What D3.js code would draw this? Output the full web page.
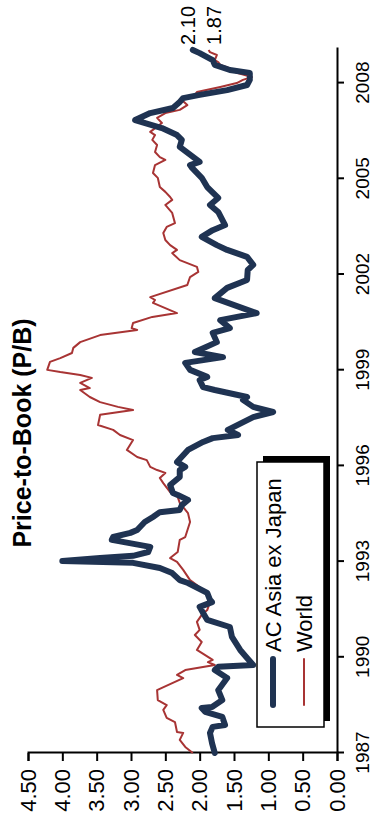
<!DOCTYPE html>
<html>
<head>
<meta charset="utf-8">
<script src="https://cdn.jsdelivr.net/npm/d3@7"></script>
<style>
  html, body { margin: 0; padding: 0; background: #fff; }
  svg { display: block; font-family: "Liberation Sans", Arial, sans-serif; }
</style>
</head>
<body>
<svg id="chart" width="375" height="820"></svg>
<script>
// Price-to-book ratios, [decimal year, P/B]
const asiaExJapan = [
  [1987.00,1.78],[1987.31,1.82],[1987.63,1.85],[1987.82,1.81],[1987.88,1.63],[1988.13,1.67],
  [1988.29,1.92],[1988.41,1.97],[1988.44,1.82],[1988.66,1.67],[1988.97,1.73],[1989.35,1.60],
  [1989.60,1.78],[1989.70,1.73],[1989.76,1.22],[1989.98,1.31],[1990.23,1.41],[1990.64,1.53],
  [1990.95,1.56],[1991.17,1.89],[1991.39,1.95],[1991.58,2.00],[1991.73,1.82],[1991.80,1.85],
  [1992.02,1.89],[1992.33,2.17],[1992.42,2.29],[1992.64,2.40],[1992.80,2.58],[1992.96,2.97],
  [1993.02,4.00],[1993.11,3.45],[1993.18,2.97],[1993.30,2.75],[1993.46,2.72],[1993.68,3.28],
  [1993.77,3.26],[1993.90,3.01],[1993.99,2.91],[1994.24,2.80],[1994.40,2.68],[1994.55,2.58],
  [1994.62,2.29],[1994.77,2.26],[1994.93,2.17],[1995.09,2.32],[1995.15,2.39],[1995.40,2.43],
  [1995.65,2.29],[1995.87,2.29],[1995.97,2.21],[1996.12,2.33],[1996.50,2.17],[1996.75,1.95],
  [1996.87,1.81],[1996.97,1.44],[1997.13,1.59],[1997.53,1.22],[1997.69,0.93],[1997.85,1.22],
  [1998.07,1.37],[1998.16,1.31],[1998.38,1.78],[1998.47,1.95],[1998.69,2.00],[1998.79,1.89],
  [1999.01,2.14],[1999.23,2.21],[1999.41,1.66],[1999.57,2.07],[1999.88,1.75],[2000.17,1.81],
  [2000.32,1.56],[2000.57,1.70],[2000.79,1.17],[2001.26,1.78],[2001.58,1.60],[2001.83,1.31],
  [2002.14,1.30],[2002.30,1.22],[2002.55,1.31],[2002.77,1.60],[2002.92,1.75],[2003.18,1.97],
  [2003.39,1.81],[2003.55,1.63],[2003.96,1.73],[2004.18,1.85],[2004.40,1.73],[2004.74,1.89],
  [2005.03,1.97],[2005.34,2.11],[2005.43,2.14],[2005.53,2.00],[2006.00,2.29],[2006.22,2.26],
  [2006.37,2.33],[2006.59,2.55],[2006.84,2.94],[2007.06,2.72],[2007.22,2.39],[2007.41,2.29],
  [2007.53,2.24],[2007.63,2.00],[2007.78,1.60],[2007.94,1.31],[2008.10,1.27],[2008.32,1.27],
  [2008.41,1.56],[2008.57,1.78],[2008.72,1.81],[2008.94,2.00],[2009.04,2.10]
];

const world = [
  [1987.00,2.10],[1987.19,2.21],[1987.41,2.29],[1987.63,2.24],[1987.66,2.33],[1987.97,2.36],
  [1988.10,2.48],[1988.35,2.53],[1988.50,2.48],[1988.66,2.61],[1988.97,2.62],[1989.04,2.55],
  [1989.35,2.24],[1989.45,2.33],[1989.60,2.21],[1989.76,1.78],[1989.85,1.88],[1989.92,1.81],
  [1990.23,2.04],[1990.48,1.97],[1990.70,2.07],[1990.86,2.00],[1991.11,2.04],[1991.33,1.97],
  [1991.48,1.89],[1991.73,1.85],[1992.02,1.89],[1992.42,2.14],[1992.74,2.24],[1992.99,2.33],
  [1993.11,2.43],[1993.30,2.32],[1993.68,2.29],[1993.77,2.21],[1994.24,2.14],[1994.52,2.17],
  [1994.84,2.29],[1995.03,2.32],[1995.18,2.43],[1995.46,2.53],[1995.62,2.58],[1995.78,2.50],
  [1995.87,2.62],[1995.97,2.72],[1996.18,2.77],[1996.28,2.91],[1996.50,3.06],[1996.81,2.97],
  [1996.97,3.16],[1997.13,3.26],[1997.28,3.48],[1997.60,3.45],[1997.75,2.97],[1997.85,3.19],
  [1998.00,3.45],[1998.16,3.60],[1998.38,3.74],[1998.44,3.60],[1998.60,3.74],[1998.76,3.57],
  [1998.85,3.74],[1998.94,4.03],[1999.01,4.22],[1999.26,4.18],[1999.38,4.03],[1999.54,3.86],
  [1999.70,3.84],[1999.88,3.74],[2000.10,3.45],[2000.26,2.91],[2000.32,2.99],[2000.48,2.97],
  [2000.67,2.69],[2000.79,2.33],[2001.11,2.68],[2001.20,2.65],[2001.29,2.72],[2001.67,2.18],
  [2001.92,2.14],[2002.08,2.02],[2002.24,2.04],[2002.45,2.29],[2002.67,2.40],[2002.77,2.33],
  [2002.92,2.43],[2003.08,2.50],[2003.30,2.53],[2003.49,2.48],[2003.61,2.36],[2003.93,2.40],
  [2004.08,2.46],[2004.18,2.50],[2004.34,2.40],[2004.43,2.43],[2004.59,2.50],[2004.74,2.58],
  [2005.03,2.61],[2005.18,2.68],[2005.43,2.65],[2005.59,2.50],[2005.68,2.58],[2005.84,2.65],
  [2006.06,2.62],[2006.22,2.69],[2006.37,2.65],[2006.47,2.72],[2006.75,2.55],[2006.91,2.62],
  [2007.06,2.50],[2007.16,2.29],[2007.31,2.18],[2007.47,2.26],[2007.63,2.07],[2007.72,2.04],
  [2007.88,1.70],[2008.00,1.46],[2008.10,1.37],[2008.19,1.24],[2008.32,1.46],[2008.50,1.60],
  [2008.57,1.70],[2008.66,1.73],[2008.72,1.78],[2008.88,1.75],[2008.97,1.85],[2009.04,1.87]
];

const yearTicks = [1987, 1990, 1993, 1996, 1999, 2002, 2005, 2008];
const valueTicks = [0, 0.5, 1, 1.5, 2, 2.5, 3, 3.5, 4, 4.5];
const seriesNames = ["AC Asia ex Japan", "World"];
const endLabels = ["2.10", "1.87"];
const titleText = "Price-to-Book (P/B)";

const NAVY = "#1f3352";
const RED = "#a83434";
const FONT = "'Liberation Sans', Arial, sans-serif";

// The chart is laid out landscape (820 x 375) and turned a quarter turn
const W = 820, H = 375;
const svg = d3.select("#chart");
const g = svg.append("g").attr("transform", `translate(0,${W}) rotate(-90)`);

const x = d3.scaleLinear().domain([1987, 2009.1]).range([67, 772]);
const y = d3.scaleLinear().domain([0, 4.5]).range([337, 28]);

// title
g.append("text")
  .attr("x", 387).attr("y", 31)
  .attr("text-anchor", "middle")
  .attr("font-weight", "bold")
  .attr("font-size", 25)
  .attr("fill", "#000")
  .text(titleText);

// value axis
const yAxis = g.append("g")
  .attr("transform", `translate(${x(1987)},0)`)
  .call(d3.axisLeft(y).tickValues(valueTicks).tickFormat(d3.format(".2f")).tickSize(8).tickPadding(8));
yAxis.select(".domain").attr("stroke", "#000").attr("stroke-width", 2);
yAxis.selectAll(".tick line").attr("stroke", "#000").attr("stroke-width", 2);
yAxis.selectAll(".tick text").attr("font-size", 22).attr("fill", "#000").attr("font-family", FONT);

// time axis
const xAxis = g.append("g")
  .attr("transform", `translate(0,${y(0)})`)
  .call(d3.axisBottom(x).tickValues(yearTicks).tickFormat(d3.format("d")).tickSize(7).tickSizeOuter(0).tickPadding(12));
xAxis.select(".domain").attr("stroke", "#000").attr("stroke-width", 2);
xAxis.selectAll(".tick line").attr("stroke", "#000").attr("stroke-width", 2);
xAxis.selectAll(".tick text").attr("font-size", 19).attr("fill", "#000").attr("font-family", FONT);

// lines
const line = d3.line().x(d => x(d[0])).y(d => y(d[1]));

g.append("path")
  .datum(world)
  .attr("d", line)
  .attr("fill", "none")
  .attr("stroke", RED)
  .attr("stroke-width", 2)
  .attr("stroke-linejoin", "round");

g.append("path")
  .datum(asiaExJapan)
  .attr("d", line)
  .attr("fill", "none")
  .attr("stroke", NAVY)
  .attr("stroke-width", 6)
  .attr("stroke-linejoin", "round")
  .attr("stroke-linecap", "round");

// end-of-series labels
const lastA = asiaExJapan[asiaExJapan.length - 1];
const lastW = world[world.length - 1];
g.append("text")
  .attr("x", x(lastA[0]) + 5).attr("y", y(lastA[1]) + 2)
  .attr("font-size", 20).attr("fill", "#000")
  .text(endLabels[0]);
g.append("text")
  .attr("x", x(lastW[0]) + 5).attr("y", y(lastW[1]) + 12)
  .attr("font-size", 20).attr("fill", "#000")
  .text(endLabels[1]);

// legend with drop shadow
const lg = g.append("g").attr("transform", "translate(93,257)");
lg.append("rect")
  .attr("x", 6).attr("y", 6).attr("width", 265).attr("height", 67)
  .attr("fill", "#000");
lg.append("rect")
  .attr("x", 0).attr("y", 0).attr("width", 265).attr("height", 67)
  .attr("fill", "#fff").attr("stroke", "#000").attr("stroke-width", 1.5);

const entries = [
  { name: seriesNames[0], color: NAVY, width: 6 },
  { name: seriesNames[1], color: RED, width: 2 }
];
entries.forEach((e, i) => {
  const cy = 16 + i * 31;
  lg.append("line")
    .attr("x1", 22).attr("x2", 68).attr("y1", cy).attr("y2", cy)
    .attr("stroke", e.color).attr("stroke-width", e.width)
    .attr("stroke-linecap", "round");
  lg.append("text")
    .attr("x", 75).attr("y", cy).attr("dy", "0.36em")
    .attr("font-size", 22).attr("fill", "#000")
    .text(e.name);
});
</script>
</body>
</html>
